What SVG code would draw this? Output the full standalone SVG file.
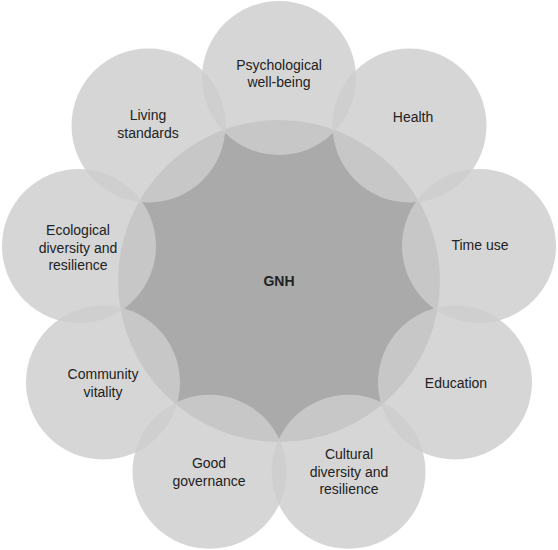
<svg xmlns="http://www.w3.org/2000/svg" width="558" height="550" viewBox="0 0 558 550">
<style>
.c{fill:#cdcdcd;fill-opacity:0.82}
.t{font-family:"Liberation Sans",Arial,sans-serif;font-size:14px;fill:#222;text-anchor:middle}
.b{font-weight:bold}
</style>
<rect width="558" height="550" fill="#fff"/>
<g id="gnh"><circle cx="279" cy="281" r="161" fill="#aaaaaa"/></g>
<g id="circles">
<g id="psychological"><circle class="c" cx="279" cy="78" r="77"/></g>
<g id="health"><circle class="c" cx="409.5" cy="125.5" r="77"/></g>
<g id="time-use"><circle class="c" cx="479" cy="246" r="77"/></g>
<g id="education"><circle class="c" cx="455" cy="382.5" r="77"/></g>
<g id="cultural"><circle class="c" cx="348.5" cy="471.8" r="77"/></g>
<g id="governance"><circle class="c" cx="209.5" cy="471.8" r="77"/></g>
<g id="community"><circle class="c" cx="103" cy="382.5" r="77"/></g>
<g id="ecological"><circle class="c" cx="79" cy="246" r="77"/></g>
<g id="living"><circle class="c" cx="148.5" cy="125.5" r="77"/></g>
</g>
<g id="connectors"></g>
<g id="labels">
<text class="t b" x="279" y="286">GNH</text>
<text class="t" x="279" y="70">Psychological</text>
<text class="t" x="279" y="87">well-being</text>
<text class="t" x="413" y="122">Health</text>
<text class="t" x="480" y="250">Time use</text>
<text class="t" x="456" y="388">Education</text>
<text class="t" x="349" y="459">Cultural</text>
<text class="t" x="349" y="477">diversity and</text>
<text class="t" x="349" y="494">resilience</text>
<text class="t" x="209" y="468">Good</text>
<text class="t" x="209" y="486">governance</text>
<text class="t" x="103" y="379">Community</text>
<text class="t" x="103" y="397">vitality</text>
<text class="t" x="78" y="235">Ecological</text>
<text class="t" x="78" y="253">diversity and</text>
<text class="t" x="78" y="270">resilience</text>
<text class="t" x="148" y="120">Living</text>
<text class="t" x="148" y="138">standards</text>
</g>
</svg>
